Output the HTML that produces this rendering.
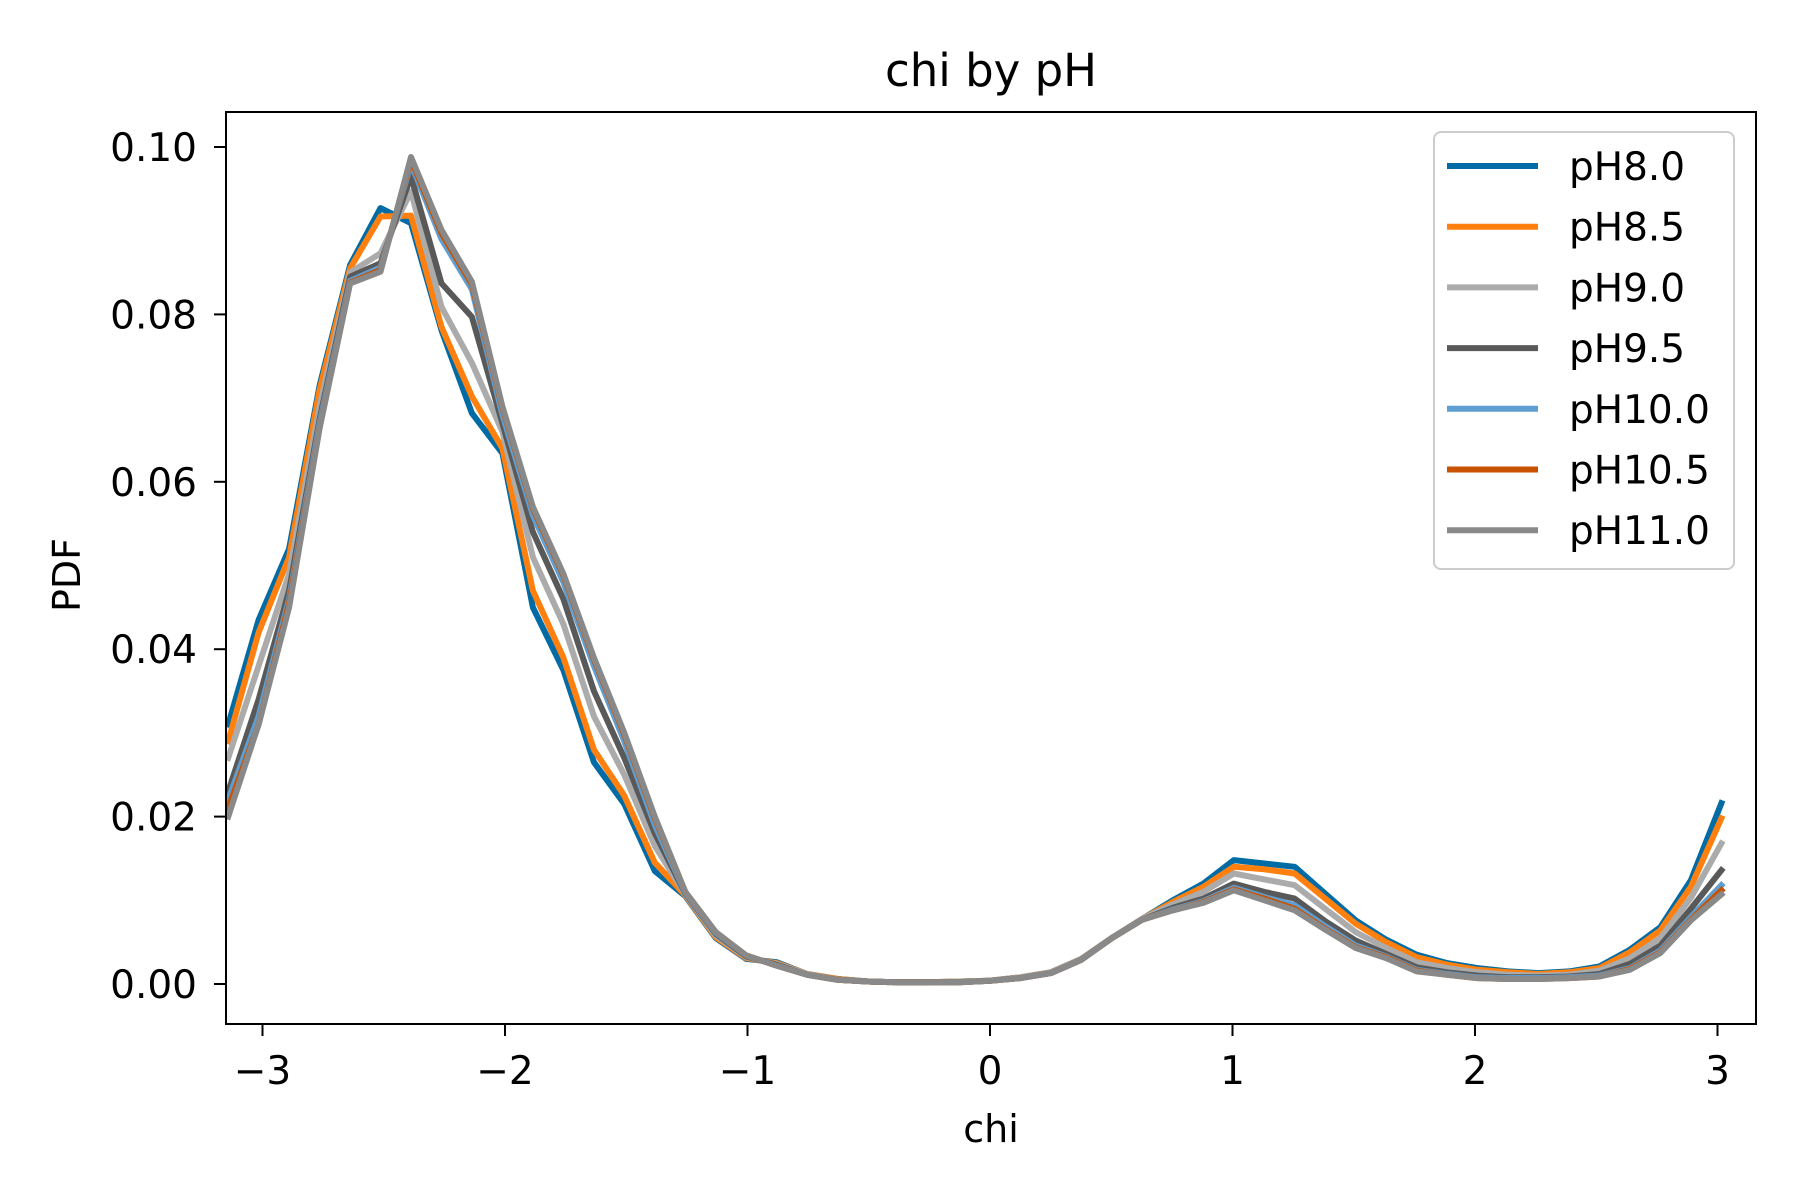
<!DOCTYPE html>
<html><head><meta charset="utf-8"><style>
html,body{margin:0;padding:0;background:#fff;}
svg{display:block;font-family:"DejaVu Sans","Liberation Sans",sans-serif;}
</style></head><body>
<svg id="chart" width="1800" height="1200" viewBox="0 0 1800 1200" xmlns="http://www.w3.org/2000/svg">
<rect width="1800" height="1200" fill="#fff"/>
<text x="991" y="86" font-size="45" text-anchor="middle">chi by pH</text>
<g id="plot"></g>
<g id="axes"></g>
<text x="991" y="1142" font-size="38" text-anchor="middle">chi</text>
<text x="80" y="575" font-size="38" text-anchor="middle" transform="rotate(-90 80 575)">PDF</text>
<g id="legend"></g>
</svg>
<script>
const xValues = [-3.1416,-3.0159,-2.8903,-2.7646,-2.6389,-2.5133,-2.3876,-2.2619,-2.1363,-2.0106,-1.8850,-1.7593,-1.6336,-1.5080,-1.3823,-1.2566,-1.1310,-1.0053,-0.8796,-0.7540,-0.6283,-0.5027,-0.3770,-0.2513,-0.1257,0.0000,0.1257,0.2513,0.3770,0.5027,0.6283,0.7540,0.8796,1.0053,1.1310,1.2566,1.3823,1.5080,1.6336,1.7593,1.8850,2.0106,2.1363,2.2619,2.3876,2.5133,2.6389,2.7646,2.8903,3.0159];
const seriesNames = ["pH8.0","pH8.5","pH9.0","pH9.5","pH10.0","pH10.5","pH11.0"];
const seriesColors = ["#006BA4","#FF800E","#ABABAB","#595959","#5F9ED1","#C85200","#898989"];
const pH80 = [.031,.0435,.052,.0715,.0859,.0927,.0909,.0781,.0682,.0634,.045,.0375,.0265,.0215,.0135,.0105,.0055,.0030,.0026,.0012,.0006,.0003,.0002,.0002,.0003,.0004,.0008,.0014,.0030,.0055,.0078,.0100,.0120,.0148,.0144,.0140,.0108,.0076,.0053,.0035,.0025,.0019,.0015,.0013,.0015,.0021,.0041,.0068,.0124,.0216];
const pH85 = [.029,.042,.051,.071,.0855,.0917,.0918,.0785,.0702,.064,.047,.039,.028,.0225,.0145,.0106,.0056,.0031,.0025,.0012,.0006,.0003,.0002,.0002,.0003,.0004,.0008,.0014,.0030,.0055,.0078,.0098,.0116,.0140,.0137,.0132,.0102,.0072,.0050,.0032,.0023,.0017,.0014,.0012,.0014,.0019,.0038,.0064,.0116,.0198];
const pH90 = [.027,.038,.049,.069,.085,.0873,.0947,.0809,.0742,.066,.051,.043,.032,.025,.0165,.0107,.0058,.0032,.0024,.0012,.0005,.0003,.0002,.0002,.0003,.0004,.0008,.0014,.0030,.0055,.0078,.0095,.0110,.0132,.0125,.0118,.0090,.0062,.0043,.0026,.0019,.0014,.0011,.0010,.0011,.0016,.0031,.0055,.0103,.0168];
const pH95 = [.023,.034,.047,.0675,.0845,.0861,.0965,.0837,.0797,.067,.054,.046,.035,.027,.018,.0108,.0060,.0033,.0023,.0011,.0005,.0003,.0002,.0002,.0002,.0004,.0007,.0013,.0029,.0055,.0077,.0091,.0102,.0120,.0110,.0102,.0075,.0052,.0036,.0020,.0014,.0010,.0008,.0008,.0009,.0012,.0024,.0046,.0090,.0136];
const pH100 = [.022,.032,.046,.067,.084,.0856,.0980,.0890,.0830,.068,.056,.048,.038,.029,.019,.0109,.0061,.0034,.0022,.0011,.0005,.0003,.0002,.0002,.0002,.0004,.0007,.0013,.0029,.0055,.0077,.0089,.0099,.0115,.0104,.0094,.0069,.0046,.0033,.0017,.0012,.0008,.0007,.0007,.0008,.0010,.0019,.0040,.0080,.0118];
const pH105 = [.021,.031,.0455,.0665,.0838,.0853,.0985,.0897,.0836,.0688,.0568,.0488,.0388,.0298,.0198,.011,.0062,.0034,.0022,.0011,.0005,.0003,.0002,.0002,.0002,.0004,.0007,.0013,.0029,.0055,.0077,.0088,.0098,.0113,.0102,.0090,.0066,.0044,.0032,.0016,.0011,.0007,.0006,.0006,.0007,.0009,.0018,.0038,.0077,.0112];
const pH110 = [.020,.031,.045,.0664,.0837,.0851,.0988,.0901,.0839,.069,.057,.049,.039,.030,.020,.0110,.0062,.0034,.0022,.0011,.0005,.0003,.0002,.0002,.0002,.0004,.0007,.0013,.0029,.0055,.0077,.0088,.0097,.0112,.0100,.0088,.0065,.0043,.0031,.0015,.0011,.0007,.0006,.0006,.0007,.0009,.0017,.0037,.0076,.0107];
const xTicks = [-3,-2,-1,0,1,2,3];
const xTickLabels = ["\u22123","\u22122","\u22121","0","1","2","3"];
const yTicks = [0,0.02,0.04,0.06,0.08,0.10];
const yTickLabels = ["0.00","0.02","0.04","0.06","0.08","0.10"];

const allSeries = [pH80,pH85,pH90,pH95,pH100,pH105,pH110];
const NS="http://www.w3.org/2000/svg";
const L=226,R=1756,T=112,B=1024;
function sx(v){return 990+v*242.5;}
function sy(v){return 984-v*8370;}
function mk(tag,attrs,parent){const e=document.createElementNS(NS,tag);for(const k in attrs)e.setAttribute(k,attrs[k]);parent.appendChild(e);return e;}
const plot=document.getElementById('plot'),axes=document.getElementById('axes'),legend=document.getElementById('legend');
const svg=document.getElementById('chart');
const defs=mk('defs',{},svg);
const cp=mk('clipPath',{id:'clip'},defs);
mk('rect',{x:L,y:T,width:R-L,height:B-T},cp);
plot.setAttribute('clip-path','url(#clip)');
allSeries.forEach((s,i)=>{
  const d=s.map((v,j)=>(j?'L':'M')+sx(xValues[j]).toFixed(1)+','+sy(v).toFixed(1)).join(' ');
  const p=mk('path',{d:d,fill:'none',stroke:seriesColors[i],'stroke-width':6,'stroke-linejoin':'round','stroke-linecap':'square'},plot);
  
  
});
const frame=mk('rect',{x:L,y:T,width:R-L,height:B-T,fill:'none',stroke:'#000','stroke-width':2},axes);


xTicks.forEach((t,i)=>{
  const x=sx(t);
  const tk=mk('line',{x1:x,y1:B,x2:x,y2:B+12,stroke:'#000','stroke-width':2},axes);
  
  
  const tx=mk('text',{x:x,y:B+60,'font-size':39,'text-anchor':'middle'},axes);
  tx.textContent=xTickLabels[i];
  
  
});
yTicks.forEach((t,i)=>{
  const y=sy(t);
  const tk=mk('line',{x1:L-12,y1:y,x2:L,y2:y,stroke:'#000','stroke-width':2},axes);
  
  
  const tx=mk('text',{x:L-29,y:y+14,'font-size':39,'text-anchor':'end'},axes);
  tx.textContent=yTickLabels[i];
  
  
});
const lb=mk('rect',{x:1434,y:132,width:300,height:437,rx:7,fill:'#fff','fill-opacity':0.8,stroke:'#ccc','stroke-width':2},legend);


seriesNames.forEach((n,i)=>{
  const y=166+i*60.7;
  const g=mk('g',{},legend);
  
  
  mk('line',{x1:1447,y1:y,x2:1538,y2:y,stroke:seriesColors[i],'stroke-width':6},g);
  const t=mk('text',{x:1569,y:y+14,'font-size':39},g);
  t.textContent=n;
});
</script>
</body></html>
